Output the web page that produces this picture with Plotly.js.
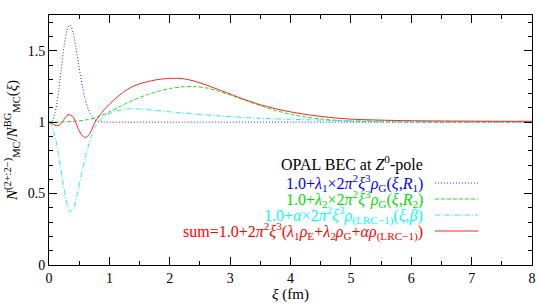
<!DOCTYPE html>
<html>
<head>
<meta charset="utf-8">
<script src="https://cdn.plot.ly/plotly-3.0.1.min.js"></script>
<style>
html,body{margin:0;padding:0;background:#fff;}
#chart{width:540px;height:306px;}
svg text, svg tspan{font-family:'Liberation Serif' !important;}
</style>
</head>
<body>
<div id="chart"></div>
<script>
// --- data ---
const xiBlue    = [0, 0.05, 0.1, 0.15, 0.2, 0.25, 0.3, 0.35, 0.4, 0.45, 0.5, 0.55, 0.6, 0.65, 0.7, 0.75, 0.8, 0.9, 1.0, 2, 4, 6, 8];
const ratioBlue = [1, 1.008, 1.065, 1.19, 1.36, 1.53, 1.645, 1.68, 1.625, 1.51, 1.38, 1.255, 1.16, 1.09, 1.046, 1.02, 1.008, 1.001, 1.0, 1.0, 1.0, 1.0, 1.0];

const xiGreen    = [0, 0.2, 0.4, 0.6, 0.8, 1.0, 1.2, 1.4, 1.6, 1.8, 2.0, 2.2, 2.4, 2.6, 2.8, 3.0, 3.25, 3.5, 3.75, 4.0, 4.25, 4.5, 4.75, 5.0, 5.5, 6, 7, 8];
const ratioGreen = [1.0, 1.001, 1.005, 1.015, 1.035, 1.072, 1.115, 1.155, 1.188, 1.215, 1.235, 1.247, 1.249, 1.24, 1.218, 1.19, 1.152, 1.115, 1.082, 1.056, 1.036, 1.022, 1.013, 1.007, 1.002, 1.0, 1.0, 1.0];

const xiCyan    = [0, 0.05, 0.1, 0.15, 0.2, 0.25, 0.3, 0.35, 0.4, 0.45, 0.5, 0.55, 0.6, 0.65, 0.7, 0.75, 0.8, 0.9, 1.0, 1.1, 1.2, 1.3, 1.4, 1.5, 1.75, 2.0, 2.5, 3.0, 3.5, 4.0, 4.5, 5, 6, 7, 8];
const ratioCyan = [1, 0.97, 0.9, 0.79, 0.66, 0.53, 0.42, 0.372, 0.39, 0.46, 0.56, 0.66, 0.75, 0.83, 0.9, 0.955, 0.99, 1.035, 1.06, 1.076, 1.086, 1.092, 1.094, 1.092, 1.082, 1.072, 1.054, 1.038, 1.027, 1.02, 1.014, 1.01, 1.006, 1.004, 1.003];

const xiRed    = [0, 0.05, 0.1, 0.15, 0.2, 0.25, 0.3, 0.33, 0.4, 0.45, 0.5, 0.55, 0.6, 0.65, 0.7, 0.75, 0.8, 0.9, 1.0, 1.1, 1.2, 1.3, 1.4, 1.5, 1.6, 1.7, 1.8, 1.9, 2.0, 2.1, 2.2, 2.3, 2.4, 2.5, 2.75, 3.0, 3.25, 3.5, 3.75, 4.0, 4.25, 4.5, 4.75, 5.0, 5.5, 6, 6.5, 7, 7.5, 8];
const ratioRed = [1.0, 0.99, 0.978, 0.975, 0.99, 1.02, 1.048, 1.054, 1.035, 0.99, 0.94, 0.905, 0.893, 0.905, 0.94, 0.99, 1.025, 1.08, 1.125, 1.165, 1.2, 1.23, 1.252, 1.268, 1.28, 1.29, 1.298, 1.303, 1.306, 1.307, 1.305, 1.298, 1.288, 1.275, 1.237, 1.197, 1.157, 1.122, 1.094, 1.072, 1.054, 1.04, 1.029, 1.021, 1.014, 1.01, 1.008, 1.007, 1.006, 1.006];

const xTickVals = [0, 1, 2, 3, 4, 5, 6, 7, 8];
const yTickVals = [0, 0.5, 1, 1.5];
const yTickText = ['0', '0.5', '1', '1.5'];

const legendTitle = 'OPAL BEC at <i>Z</i><sup>0</sup>-pole';
const legendLabels = [
  '1.0+<i>λ</i><sub>1</sub>×2<i>π</i><sup>2</sup><i>ξ</i><sup>3</sup><i>ρ</i><sub>G</sub>(<i>ξ</i>,<i>R</i><sub>1</sub>)',
  '1.0+<i>λ</i><sub>2</sub>×2<i>π</i><sup>2</sup><i>ξ</i><sup>3</sup><i>ρ</i><sub>G</sub>(<i>ξ</i>,<i>R</i><sub>2</sub>)',
  '1.0+<i>α</i>×2<i>π</i><sup>2</sup><i>ξ</i><sup>3</sup><i>ρ</i><sub>(LRC−1)</sub>(<i>ξ</i>,<i>β</i>)',
  'sum=1.0+2<i>π</i><sup>2</sup><i>ξ</i><sup>3</sup>(<i>λ</i><sub>1</sub><i>ρ</i><sub>E</sub>+<i>λ</i><sub>2</sub><i>ρ</i><sub>G</sub>+<i>αρ</i><sub>(LRC−1)</sub>)'
];
const seriesColors = ['#0000ff', '#00dd00', '#00ffff', '#ff0000'];
const seriesDash = ['1px,2px', '4px,2px', '5px,2px,1px,2px', 'solid'];

// --- build chart ---
const xs = [xiBlue, xiGreen, xiCyan, xiRed];
const ys = [ratioBlue, ratioGreen, ratioCyan, ratioRed];
const lineColors = ['#2020ff', '#22dd22', '#22eeee', '#ff2020'];
const traces = xs.map((x, i) => ({
  x: x, y: ys[i], type: 'scatter', mode: 'lines', showlegend: false,
  line: {color: lineColors[i], width: 1, dash: seriesDash[i], shape: 'spline', smoothing: 0.8},
  hoverinfo: 'skip'
}));

const fam = 'Liberation Serif';
const mkFont = (size, color) => ({family: fam, size: size, color: color || '#000'});
const rowY = [0.328, 0.264, 0.2, 0.136];
const annotations = [{
  xref: 'paper', yref: 'paper', x: 0.627, y: 0.408, xanchor: 'center', yanchor: 'middle',
  text: legendTitle, showarrow: false, font: mkFont(16)
}];
const shapes = [];
legendLabels.forEach((t, i) => {
  annotations.push({
    xref: 'paper', yref: 'paper', x: 0.778, y: rowY[i], xanchor: 'right', yanchor: 'middle',
    text: t, showarrow: false, font: mkFont(16, seriesColors[i])
  });
  shapes.push({
    type: 'line', xref: 'paper', yref: 'paper', x0: 0.799, x1: 0.888, y0: rowY[i], y1: rowY[i],
    line: {color: lineColors[i], width: 1, dash: seriesDash[i]}
  });
});

const mkAxis = () => ({
  showline: true, linecolor: '#000', linewidth: 1, mirror: 'allticks',
  ticks: 'inside', ticklen: 8, tickcolor: '#000', tickwidth: 1,
  showgrid: false, zeroline: false, tickfont: mkFont(14)
});

const layout = {
  width: 540, height: 306,
  margin: {l: 49, r: 8, t: 15, b: 41},
  paper_bgcolor: '#fff', plot_bgcolor: '#fff',
  font: mkFont(15),
  xaxis: Object.assign(mkAxis(), {
    range: [0, 8], tickvals: xTickVals, ticktext: xTickVals.map(String),
    minor: {dtick: 0.5, ticks: 'inside', ticklen: 4, tickcolor: '#000', showgrid: false},
    title: {text: '<i>ξ</i> (fm)', font: mkFont(15), standoff: 2}
  }),
  yaxis: Object.assign(mkAxis(), {
    range: [0, 1.75], tickvals: yTickVals, ticktext: yTickText,
    minor: {dtick: 0.1, ticks: 'inside', ticklen: 4, tickcolor: '#000', showgrid: false},
    title: {text: '<i>N</i><sup>(2+:2−)</sup><sub>MC</sub>/<i>N</i><sup>BG</sup><sub>MC</sub>(<i>ξ</i>)', font: mkFont(15), standoff: 6}
  }),
  annotations: annotations,
  shapes: shapes
};

Plotly.newPlot('chart', traces, layout, {staticPlot: true, displayModeBar: false});
</script>
</body>
</html>
